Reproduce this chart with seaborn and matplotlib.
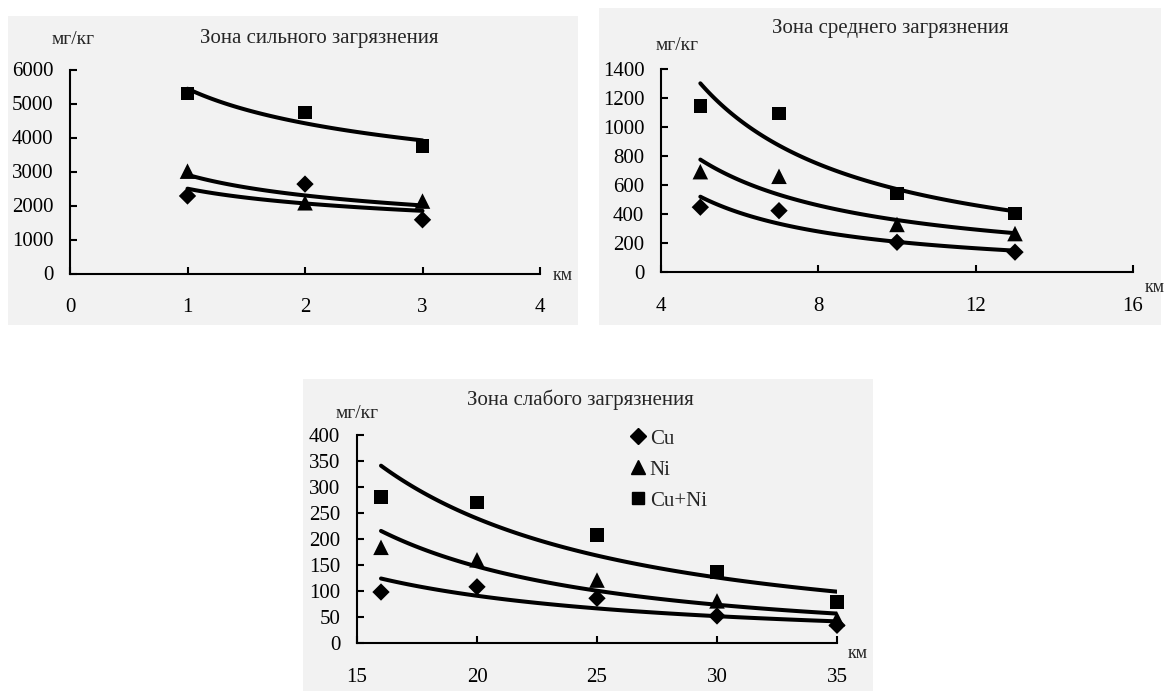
import numpy as np
import pandas as pd
import matplotlib
matplotlib.use("Agg")
import matplotlib.pyplot as plt
from matplotlib.patches import Rectangle
from matplotlib.lines import Line2D
import seaborn as sns

# Distance from the source, km, and metal content, mg/kg
km_strong = [1, 2, 3]
cu_strong = [2280, 2630, 1580]
ni_strong = [3010, 2080, 2130]
cuni_strong = [5300, 4730, 3750]

km_mid = [5, 7, 10, 13]
cu_mid = [447, 423, 205, 137]
ni_mid = [692, 660, 328, 265]
cuni_mid = [1143, 1092, 540, 403]

km_weak = [16, 20, 25, 30, 35]
cu_weak = [98, 108, 86, 52, 34]
ni_weak = [184, 160, 121, 81, 46]
cuni_weak = [281, 270, 208, 137, 79]

metals = ["Cu", "Ni", "Cu+Ni"]
titles = ["Зона сильного загрязнения", "Зона среднего загрязнения",
          "Зона слабого загрязнения"]
x_ticks = [[0, 1, 2, 3, 4], [4, 8, 12, 16], [15, 20, 25, 30, 35]]
y_ticks = [list(range(0, 6001, 1000)), list(range(0, 1401, 200)),
           list(range(0, 401, 50))]

sns.set_style("white")
plt.rcParams["font.family"] = ["Liberation Serif", "DejaVu Serif"]

W, H = 1167, 691
fig = plt.figure(figsize=(W / 100, H / 100), dpi=100)
fig.patch.set_facecolor("white")

BG = "#f2f2f2"
marker_map = {"Cu": "D", "Ni": "^", "Cu+Ni": "s"}
size_map = {"Cu": 78, "Ni": 125, "Cu+Ni": 95}
FS = 15


def px_rect(x0, y0, x1, y1):
    """Figure-fraction rectangle from pixel corners (origin top-left)."""
    return [x0 / W, 1 - y1 / H, (x1 - x0) / W, (y1 - y0) / H]


def fig_text(x, y, s, **kw):
    fig.text(x / W, 1 - y / H, s, **kw)


def long_frame(km, cu, ni, cuni):
    return pd.DataFrame({
        "km": km * 3,
        "value": cu + ni + cuni,
        "metal": ["Cu"] * len(km) + ["Ni"] * len(km) + ["Cu+Ni"] * len(km),
    })


def power_trend(df):
    """Least-squares power trend y = a * x**b for each metal."""
    rows = []
    for m in metals:
        sub = df[df.metal == m]
        b, lna = np.polyfit(np.log(sub.km), np.log(sub.value), 1)
        xs = np.linspace(sub.km.min(), sub.km.max(), 120)
        rows.append(pd.DataFrame({"km": xs, "value": np.exp(lna) * xs ** b,
                                  "metal": m}))
    return pd.concat(rows, ignore_index=True)


panels = [
    dict(df=long_frame(km_strong, cu_strong, ni_strong, cuni_strong),
         bg=(8, 16, 578, 325), ax=(70, 69.5, 540, 273.5),
         xlim=(0, 4), ylim=(0, 6000),
         title=(319, 38), unit=(73, 40), kmpos=(563, 276)),
    dict(df=long_frame(km_mid, cu_mid, ni_mid, cuni_mid),
         bg=(599, 8, 1161, 325), ax=(661, 69, 1133, 272),
         xlim=(4, 16), ylim=(0, 1400),
         title=(890, 28), unit=(677, 45), kmpos=(1155, 288)),
    dict(df=long_frame(km_weak, cu_weak, ni_weak, cuni_weak),
         bg=(303, 379, 873, 691), ax=(357, 435, 837, 643),
         xlim=(15, 35), ylim=(0, 400),
         title=(580, 400), unit=(357, 413), kmpos=(858, 653)),
]

for i, p in enumerate(panels):
    r = px_rect(*p["bg"])
    fig.patches.append(Rectangle(r[:2], r[2], r[3],
                                 transform=fig.transFigure, facecolor=BG,
                                 edgecolor="none", zorder=-5))
    ax = fig.add_axes(px_rect(*p["ax"]))
    ax.set_zorder(2)
    ax.set_facecolor("none")

    trend = power_trend(p["df"])
    sns.lineplot(data=trend, x="km", y="value", units="metal",
                 estimator=None, color="black", linewidth=2.9, ax=ax,
                 legend=False, zorder=2)
    sns.scatterplot(data=p["df"], x="km", y="value", style="metal",
                    size="metal", sizes=size_map, markers=marker_map,
                    color="black", edgecolor="none", linewidth=0, ax=ax,
                    legend=False, zorder=3, clip_on=False)

    ax.set_xlim(*p["xlim"])
    ax.set_ylim(*p["ylim"])
    ax.set_xticks(x_ticks[i])
    ax.set_yticks(y_ticks[i])
    ax.set_xlabel("")
    ax.set_ylabel("")
    for side in ("top", "right"):
        ax.spines[side].set_visible(False)
    for side in ("left", "bottom"):
        ax.spines[side].set_visible(True)
        ax.spines[side].set_color("black")
        ax.spines[side].set_linewidth(1.5)
    ax.tick_params(axis="y", direction="in", length=5, width=1.5,
                   labelsize=FS, pad=12, colors="black", left=True)
    ax.tick_params(axis="x", direction="in", length=5, width=1.5,
                   labelsize=FS, pad=18, colors="black", bottom=True)

    fig_text(*p["title"], titles[i], ha="center", va="center", fontsize=FS)
    fig_text(*p["unit"], "мг/кг", ha="center", va="center", fontsize=14)
    fig_text(*p["kmpos"], "км", ha="center", va="center", fontsize=13)

    if i == 2:
        msize = {"Cu": 8, "Ni": 10.5, "Cu+Ni": 9}
        handles = [Line2D([], [], linestyle="none", marker=marker_map[m],
                          color="black", markersize=msize[m])
                   for m in metals]
        ax.legend(handles, metals, loc="upper left",
                  bbox_to_anchor=(630 / W, 1 - 429 / H),
                  bbox_transform=fig.transFigure, frameon=False,
                  fontsize=FS, handlelength=0.8, handletextpad=0.15,
                  labelspacing=0.55, borderpad=0, borderaxespad=0)

fig.savefig("out.png", dpi=100)
